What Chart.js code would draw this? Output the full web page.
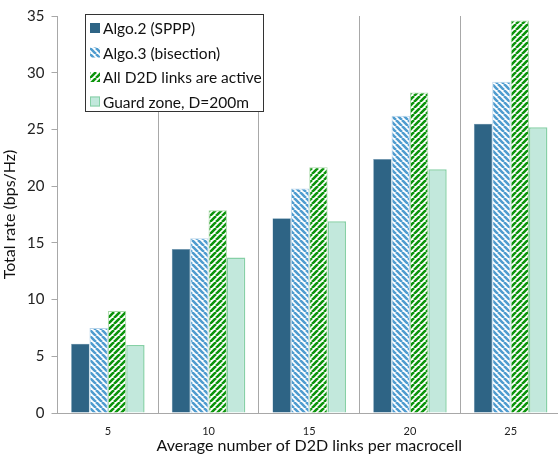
<!DOCTYPE html>
<html>
<head>
<meta charset="utf-8">
<script src="https://cdn.jsdelivr.net/npm/chart.js@4"></script>
<style>
  body { margin: 0; background: #fff; overflow: hidden; }
  #wrap { width: 558px; height: 455px; overflow: hidden; }
</style>
</head>
<body>
<div id="wrap"><canvas id="myChart" width="561" height="455"></canvas></div>
<script>
var categories = ['5', '10', '15', '20', '25'];
var algo2 = [6.1, 14.45, 17.17, 22.4, 25.5];
var algo3 = [7.5, 15.4, 19.8, 26.2, 29.2];
var allActive = [9.0, 17.87, 21.67, 28.25, 34.6];
var guardZone = [6.0, 13.7, 16.9, 21.5, 25.2];
var seriesNames = ['Algo.2 (SPPP)', 'Algo.3 (bisection)', 'All D2D links are active', 'Guard zone, D=200m'];

var FONT = 'Lato, "Open Sans", sans-serif';

// striped fill, dir 1 = "\" , dir -1 = "/"
function stripes(color, dir) {
    var s = 6;
    var t = document.createElement('canvas');
    t.width = s; t.height = s;
    var g = t.getContext('2d');
    g.fillStyle = '#ffffff';
    g.fillRect(0, 0, s, s);
    g.strokeStyle = color;
    g.lineWidth = 2.6;
    g.beginPath();
    for (var k = -1; k <= 1; k++) {
        if (dir > 0) {
            g.moveTo(k * s, 0); g.lineTo(k * s + s, s);
        } else {
            g.moveTo(k * s, s); g.lineTo(k * s + s, 0);
        }
    }
    g.stroke();
    return g.createPattern(t, 'repeat');
}

var ctx = document.getElementById('myChart').getContext('2d');
var bluePattern = stripes('#4f9ccf', 1);
var greenPattern = stripes('#0b940b', -1);

// legend box drawn inside the plot, top left
var boxLegend = {
    id: 'boxLegend',
    afterDraw: function (chart) {
        var c = chart.ctx;
        var x0 = 85.5, y0 = 14.5, w = 178, h = 97;
        c.save();
        c.fillStyle = '#ffffff';
        c.fillRect(x0, y0, w, h);
        c.strokeStyle = '#333333';
        c.lineWidth = 1;
        c.strokeRect(x0, y0, w, h);
        c.font = '15.5px ' + FONT;
        c.textBaseline = 'middle';
        chart.data.datasets.forEach(function (ds, i) {
            var cy = 28 + i * 24.5;
            c.fillStyle = ds.backgroundColor;
            c.fillRect(90, cy - 5, 10, 10);
            if (i == 3) {
                c.strokeStyle = ds.borderColor;
                c.strokeRect(90.5, cy - 4.5, 9, 9);
            }
            c.fillStyle = '#111111';
            c.fillText(ds.label, 103, cy + 1);
        });
        c.restore();
    }
};

var chart = new Chart(ctx, {
    type: 'bar',
    data: {
        labels: categories,
        datasets: [{
            label: seriesNames[0],
            data: algo2,
            backgroundColor: '#2e6485',
            borderColor: '#6f9ab5',
            borderWidth: 0.5
        }, {
            label: seriesNames[1],
            data: algo3,
            backgroundColor: bluePattern,
            borderColor: '#b7d4ea',
            borderWidth: 1
        }, {
            label: seriesNames[2],
            data: allActive,
            backgroundColor: greenPattern,
            borderColor: '#a9d9a9',
            borderWidth: 1
        }, {
            label: seriesNames[3],
            data: guardZone,
            backgroundColor: '#c2e8dc',
            borderColor: '#86d0a6',
            borderWidth: 1.5
        }]
    },
    options: {
        responsive: false,
        animation: false,
        layout: { padding: { top: 7, right: 0, left: 0, bottom: 0 } },
        datasets: { bar: { categoryPercentage: 0.73, barPercentage: 1 } },
        plugins: {
            legend: { display: false },
            tooltip: { enabled: false }
        },
        scales: {
            x: {
                grid: { offset: true, drawTicks: false, color: '#a8a8a8', lineWidth: 1 },
                border: { color: '#a8a8a8' },
                ticks: { font: { family: FONT, size: 11 }, color: '#222', padding: 12 },
                title: {
                    display: true,
                    text: 'Average number of D2D links per macrocell',
                    font: { family: FONT, size: 16 },
                    color: '#111',
                    padding: { top: -4, bottom: 0 }
                },
                afterFit: function (axis) { axis.height = 42; }
            },
            y: {
                min: 0,
                max: 35,
                ticks: { stepSize: 5, font: { family: FONT, size: 15 }, color: '#222', padding: 7 },
                grid: { drawOnChartArea: false, drawTicks: true, tickLength: 6, color: '#a8a8a8' },
                border: { color: '#a8a8a8' },
                title: {
                    display: true,
                    text: 'Total rate (bps/Hz)',
                    font: { family: FONT, size: 16 },
                    color: '#111',
                    padding: 0
                },
                afterFit: function (axis) { axis.width = 57.5; }
            }
        }
    },
    plugins: [boxLegend]
});
</script>
</body>
</html>
